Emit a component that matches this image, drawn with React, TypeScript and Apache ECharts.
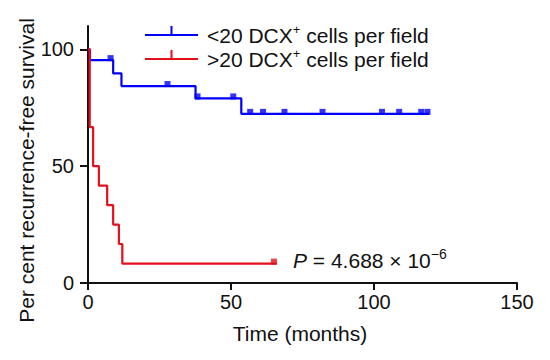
import React, { useEffect, useRef } from "react";
import * as echarts from "echarts";

// ---- data ----
const blueName = "<20 DCX+ cells per field";
const redName = ">20 DCX+ cells per field";

const blueTimes = [0, 0.7, 8.8, 11.7, 37.6, 53.6, 119.3];
const blueSurvival = [100, 95.4, 89.7, 84.3, 79.0, 72.4, 72.4];
const blueCensorTimes = [7.9, 27.8, 38.3, 50.8, 56.7, 61.2, 68.7, 82.0, 102.8, 108.8, 116.5, 118.7];
const blueCensorSurvival = [95.4, 84.3, 79.0, 79.0, 72.4, 72.4, 72.4, 72.4, 72.4, 72.4, 72.4, 72.4];

const redTimes = [0, 0.6, 1.8, 3.8, 6.7, 8.8, 10.8, 12.0, 66.0];
const redSurvival = [100, 66.7, 50, 41.7, 33.3, 25, 16.7, 8.3, 8.3];
const redCensorTimes = [65.0];
const redCensorSurvival = [8.3];

const xTicks = [0, 50, 100, 150];
const yTicks = [0, 50, 100];

const BLUE = "#0000ff";
const RED = "#e3101c";
const FONT = "Liberation Sans, Arial, Helvetica, sans-serif";

const zip = (a: number[], b: number[]) => a.map((v, i) => [v, b[i]]);

const legendIcon =
  "path://M0,9H53V11H0Z M25.5,1H27.5V9H25.5Z M0,0 M0,20";

export default function App() {
  const ref = useRef<HTMLDivElement>(null);
  useEffect(() => {
    if (!ref.current) return;
    const chart = echarts.init(ref.current, null, { renderer: "svg" });
    chart.setOption({
      animation: false,
      textStyle: { fontFamily: FONT, color: "#111" },
      grid: { left: 88, right: 33, top: 26, bottom: 77 },
      legend: {
        orient: "vertical",
        left: 145,
        top: 23,
        padding: 0,
        itemGap: 0,
        itemWidth: 53,
        itemHeight: 20,
        selectedMode: false,
        data: [
          { name: blueName, icon: legendIcon },
          { name: redName, icon: legendIcon },
        ],
        formatter: (name: string) =>
          name === blueName
            ? "{f|<20 DCX}{s|+}{t| cells per field}"
            : "{f|>20 DCX}{s|+}{t| cells per field}",
        textStyle: {
          fontFamily: FONT,
          fontSize: 21,
          lineHeight: 24,
          color: "#111",
          rich: {
            f: { fontFamily: FONT, fontSize: 21, lineHeight: 24, color: "#111", padding: [0, 0, 0, 4] },
            s: { fontFamily: FONT, fontSize: 13, lineHeight: 10, color: "#111", verticalAlign: "top" },
            t: { fontFamily: FONT, fontSize: 21, lineHeight: 24, color: "#111" },
          },
        },
      },
      xAxis: {
        type: "value",
        min: 0,
        max: 150,
        interval: 50,
        name: "Time (months)",
        nameLocation: "middle",
        nameGap: 40,
        nameMoveOverlap: false,
        nameTextStyle: { fontFamily: FONT, fontSize: 21, color: "#111", padding: [0, 5, 0, 0] },
        axisLine: { show: true, lineStyle: { color: "#111", width: 2 } },
        axisTick: { show: true, length: 7, lineStyle: { color: "#111", width: 2 }, customValues: xTicks },
        axisLabel: { fontFamily: FONT, fontSize: 20, color: "#111", margin: 9, customValues: xTicks },
        splitLine: { show: false },
      },
      yAxis: {
        type: "value",
        min: 0,
        max: 110,
        name: "Per cent recurrence-free survival",
        nameLocation: "middle",
        nameGap: 51,
        nameMoveOverlap: false,
        nameTextStyle: { fontFamily: FONT, fontSize: 21, color: "#111", padding: [0, 32, 0, 0] },
        axisLine: { show: true, lineStyle: { color: "#111", width: 2 } },
        axisTick: { show: true, length: 8, lineStyle: { color: "#111", width: 2 }, customValues: yTicks },
        axisLabel: { fontFamily: FONT, fontSize: 20, color: "#111", margin: 14, customValues: yTicks },
        splitLine: { show: false },
      },
      graphic: [
        {
          type: "text",
          x: 293,
          y: 260,
          style: {
            text: "{i|P}{n| = 4.688 × 10}{s|−6}",
            verticalAlign: "middle",
            rich: {
              i: { fontFamily: FONT, fontSize: 21, fontStyle: "italic", lineHeight: 26, fill: "#111" },
              n: { fontFamily: FONT, fontSize: 21, lineHeight: 26, fill: "#111" },
              s: { fontFamily: FONT, fontSize: 14, lineHeight: 14, fill: "#111", verticalAlign: "top" },
            },
          },
        },
      ],
      series: [
        {
          name: blueName,
          type: "line",
          step: "end",
          symbol: "none",
          color: BLUE,
          lineStyle: { color: BLUE, width: 2.2 },
          data: zip(blueTimes, blueSurvival),
          z: 2,
        },
        {
          name: redName,
          type: "line",
          step: "end",
          symbol: "none",
          color: RED,
          lineStyle: { color: RED, width: 2.2 },
          data: zip(redTimes, redSurvival),
          z: 2,
        },
        {
          name: "blue censored",
          type: "scatter",
          symbol: "rect",
          symbolSize: [6, 6],
          symbolOffset: [0, -2],
          itemStyle: { color: BLUE },
          data: zip(blueCensorTimes, blueCensorSurvival),
          z: 3,
        },
        {
          name: "red censored",
          type: "scatter",
          symbol: "rect",
          symbolSize: [6, 6],
          symbolOffset: [0, -2],
          itemStyle: { color: RED },
          data: zip(redCensorTimes, redCensorSurvival),
          z: 3,
        },
      ],
    });
    return () => chart.dispose();
  }, []);
  return (
    <div
      ref={ref}
      style={{ position: "absolute", left: 0, top: 0, width: 550, height: 360 }}
    />
  );
}
